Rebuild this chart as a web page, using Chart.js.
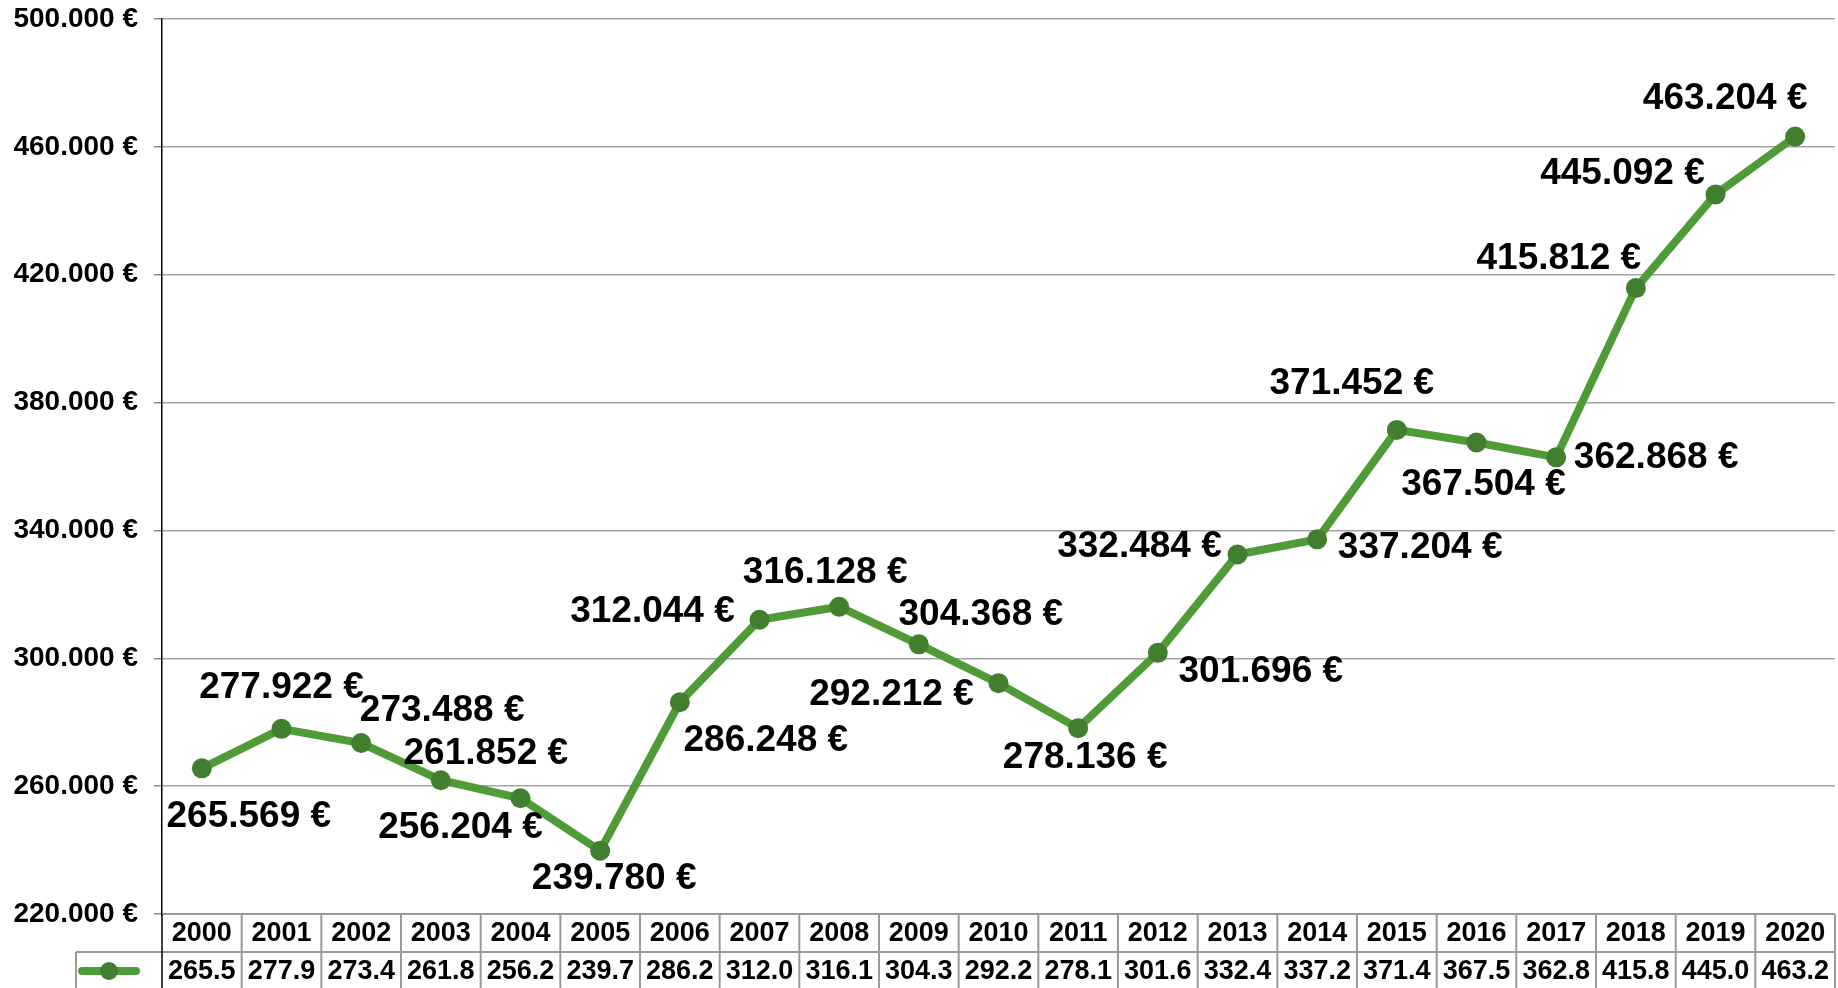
<!DOCTYPE html>
<html>
<head>
<meta charset="utf-8">
<title>Entwicklung</title>
<script src="https://cdn.jsdelivr.net/npm/chart.js@4"></script>
<style>
  html, body { margin: 0; padding: 0; background: #fff; }
  #wrap { width: 1838px; height: 988px; position: relative; }
</style>
</head>
<body>
<div id="wrap"><canvas id="priceChart"></canvas></div>
<script>
// data
const years = ['2000','2001','2002','2003','2004','2005','2006','2007','2008','2009','2010',
               '2011','2012','2013','2014','2015','2016','2017','2018','2019','2020'];
const values = [265569, 277922, 273488, 261852, 256204, 239780, 286248, 312044, 316128, 304368, 292212,
                278136, 301696, 332484, 337204, 371452, 367504, 362868, 415812, 445092, 463204];
const tableValues = ['265.5','277.9','273.4','261.8','256.2','239.7','286.2','312.0','316.1','304.3','292.2',
                     '278.1','301.6','332.4','337.2','371.4','367.5','362.8','415.8','445.0','463.2'];

// where each value label sits relative to its point (px)
const labelOffsets = [
    [47, 48], [0, -41], [81, -32], [45, -26], [-60, 30], [14, 28], [86, 39],
    [-107, -8], [-14, -34], [62, -30], [-107, 12], [7, 30], [103, 19], [-98, -8],
    [103, 8], [-45, -46], [7, 42], [100, 0], [-77, -29], [-93, -21], [-70, -38]
];

const FONT = '"Liberation Sans", Arial, Helvetica, sans-serif';
const LINE_GREEN = '#4e9b37';
const POINT_GREEN = '#417f2e';
const TABLE_GRAY = '#9a9a9a';

function formatEuro(v) {
    return String(v).replace(/\B(?=(\d{3})+(?!\d))/g, '.') + ' €';
}

// value labels next to the points
const valueLabels = {
    id: 'valueLabels',
    afterDatasetsDraw(chart) {
        const ctx = chart.ctx;
        const meta = chart.getDatasetMeta(0);
        ctx.save();
        ctx.font = 'bold 37px ' + FONT;
        ctx.fillStyle = '#000';
        ctx.textAlign = 'center';
        ctx.textBaseline = 'middle';
        meta.data.forEach((pt, i) => {
            const off = labelOffsets[i] || [0, -30];
            ctx.fillText(formatEuro(values[i]), pt.x + off[0], pt.y + off[1]);
        });
        ctx.restore();
    }
};

// data table under the plot
const dataTable = {
    id: 'dataTable',
    afterDraw(chart) {
        const ctx = chart.ctx;
        const area = chart.chartArea;
        const x = chart.scales.x;
        const colW = (area.right - area.left) / years.length;
        const rowTop = area.bottom;
        const rowMid = rowTop + 38;
        const rowBottom = chart.height + 2;
        const legendLeft = 76;

        ctx.save();
        ctx.strokeStyle = TABLE_GRAY;
        ctx.lineWidth = 2;
        ctx.beginPath();
        // horizontal lines
        ctx.moveTo(area.left, rowTop); ctx.lineTo(area.right, rowTop);
        ctx.moveTo(legendLeft, rowMid); ctx.lineTo(area.right, rowMid);
        // vertical lines
        for (let i = 1; i <= years.length; i++) {
            const bx = area.left + i * colW;
            ctx.moveTo(bx, rowTop); ctx.lineTo(bx, rowBottom);
        }
        ctx.moveTo(legendLeft, rowMid); ctx.lineTo(legendLeft, rowBottom);
        ctx.stroke();

        // y axis line continues through the table
        ctx.strokeStyle = '#000';
        ctx.lineWidth = 1.5;
        ctx.beginPath();
        ctx.moveTo(area.left, rowTop); ctx.lineTo(area.left, rowBottom);
        ctx.stroke();

        ctx.font = 'bold 27px ' + FONT;
        ctx.fillStyle = '#000';
        ctx.textAlign = 'center';
        ctx.textBaseline = 'middle';
        years.forEach((yr, i) => {
            const cx = x.getPixelForValue(i);
            ctx.fillText(yr, cx, (rowTop + rowMid) / 2 + 1);
            ctx.fillText(tableValues[i], cx, (rowMid + rowBottom) / 2 + 1);
        });

        // legend key
        const ly = (rowMid + rowBottom) / 2;
        ctx.strokeStyle = LINE_GREEN;
        ctx.lineWidth = 8;
        ctx.lineCap = 'round';
        ctx.beginPath();
        ctx.moveTo(82, ly); ctx.lineTo(136, ly);
        ctx.stroke();
        ctx.fillStyle = POINT_GREEN;
        ctx.beginPath();
        ctx.arc(109, ly, 9, 0, Math.PI * 2);
        ctx.fill();
        ctx.restore();
    }
};

const canvas = document.getElementById('priceChart');
const chart = new Chart(canvas.getContext('2d'), {
    type: 'line',
    data: {
        labels: years,
        datasets: [{
            data: values,
            borderColor: LINE_GREEN,
            borderWidth: 8,
            pointRadius: 10,
            pointBorderWidth: 0,
            pointBackgroundColor: POINT_GREEN,
            tension: 0,
            fill: false
        }]
    },
    options: {
        responsive: true,
        maintainAspectRatio: false,
        animation: false,
        layout: { autoPadding: false, padding: { top: 19, right: 3, bottom: 0, left: 0 } },
        plugins: {
            legend: { display: false },
            tooltip: { enabled: false }
        },
        scales: {
            x: {
                offset: true,
                grid: { display: false },
                border: { display: false },
                ticks: { display: false },
                afterFit(scale) { scale.height = 74; }
            },
            y: {
                min: 220000,
                max: 500000,
                grid: { color: '#a3a3a3', lineWidth: 1.5, tickLength: 8, tickColor: '#888' },
                border: { color: '#000', width: 1.5 },
                ticks: {
                    stepSize: 40000,
                    padding: 16,
                    color: '#000',
                    font: { family: FONT, size: 28, weight: 'bold' },
                    callback: (v) => formatEuro(v)
                },
                afterFit(scale) {
                    scale.width = 162;
                    scale.paddingTop = 0;
                    scale.paddingBottom = 0;
                }
            }
        }
    },
    plugins: [valueLabels, dataTable]
});
</script>
</body>
</html>
